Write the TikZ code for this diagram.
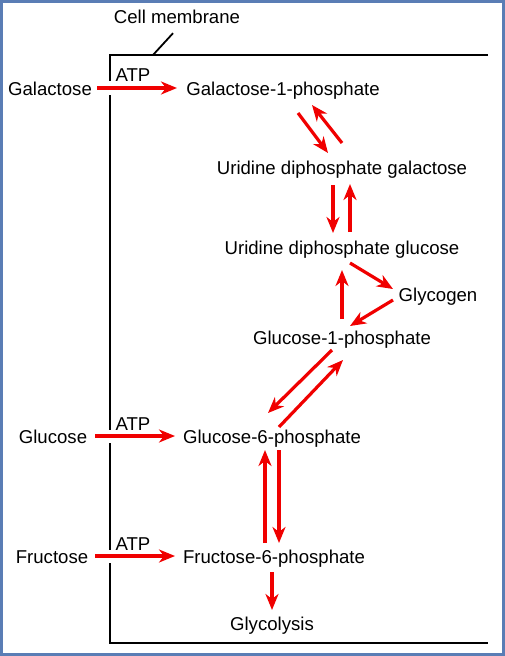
\documentclass[tikz,border=0pt]{standalone}
\usepackage{fontspec}
\setmainfont{Liberation Sans}
\usepackage{tikz}
\usetikzlibrary{arrows.meta, positioning, calc}
\definecolor{frameblue}{RGB}{90,125,181}
\definecolor{pathred}{RGB}{240,0,0}
\tikzstyle{label} = [inner sep=0pt, text height=13.5pt, text depth=3.5pt, font=\fontsize{18.6}{22}\selectfont]
\tikzstyle{arrow} = [draw=pathred, line width=3.2pt, -{Stealth[length=16pt, width=13pt, inset=5pt]}]
\tikzstyle{membrane} = [draw=black, line width=2.6pt]

\begin{document}
\begin{tikzpicture}[x=1pt, y=-1pt]
    \useasboundingbox (0,0) rectangle (505,656);
    \draw [frameblue, line width=3pt] (1.5,1.5) rectangle (503.5,654.5);

    % Nodes
    \node (cellmem) [label] at (177,18) {Cell membrane};
    \node (galactose) [label] at (50,90) {Galactose};
    \node (gal1p) [label] at (283,90) {Galactose-1-phosphate};
    \node (udpgal) [label] at (342,169) {Uridine diphosphate galactose};
    \node (udpglc) [label] at (342,249) {Uridine diphosphate glucose};
    \node (glycogen) [label] at (438,296) {Glycogen};
    \node (glc1p) [label] at (342,339) {Glucose-1-phosphate};
    \node (glucose) [label] at (53,438) {Glucose};
    \node (glc6p) [label] at (272,438) {Glucose-6-phosphate};
    \node (fructose) [label] at (52,558) {Fructose};
    \node (fru6p) [label] at (274,558) {Fructose-6-phosphate};
    \node (glycolysis) [label] at (272,625) {Glycolysis};
    \node (atpgal) [label] at (133,76) {ATP};
    \node (atpglc) [label] at (133,425) {ATP};
    \node (atpfru) [label] at (133,545) {ATP};

    % Membrane
    \coordinate (memtop) at (153,55);
    \draw [membrane] (488,55) -- (110,55) -- (110,81);
    \draw [membrane] (110,95) -- (110,430);
    \draw [membrane] (110,443) -- (110,550);
    \draw [membrane] (110,563) -- (110,643) -- (488,643);
    \draw [black, line width=1.8pt] (memtop) -- ([xshift=-4pt, yshift=-6.5pt]cellmem.south);

    % Arrows
    \draw [arrow] ($(galactose)+(47,-2)$) -- ($(gal1p)+(-106,-2)$);
    \draw [arrow] ($(gal1p)+(15,23)$) -- ($(udpgal)+(-14,-16)$);
    \draw [arrow] ($(udpgal)+(0,-26)$) -- ($(gal1p)+(29,15)$);
    \draw [arrow] ($(udpgal)+(-9,16)$) -- ($(udpglc)+(-9,-16)$);
    \draw [arrow] ($(udpglc)+(8,-17)$) -- ($(udpgal)+(8,15)$);
    \draw [arrow] ($(udpglc)+(8,14)$) -- ($(glycogen)+(-45,-7)$);
    \draw [arrow] ($(glycogen)+(-45,4)$) -- ($(glc1p)+(8,-13)$);
    \draw [arrow] ($(glc1p)+(0,-20)$) -- ($(udpglc)+(0,21)$);
    \draw [arrow] ($(glc1p)+(-10,11)$) -- ($(glc6p)+(-4,-25)$);
    \draw [arrow] ($(glc6p)+(7,-11)$) -- ($(glc1p)+(1,21)$);
    \draw [arrow] ($(glucose)+(42,-2)$) -- ($(glc6p)+(-97,-2)$);
    \draw [arrow] ($(glc6p)+(7,12)$) -- ($(fru6p)+(5,-15)$);
    \draw [arrow] ($(fru6p)+(-9,-15)$) -- ($(glc6p)+(-7,12)$);
    \draw [arrow] ($(fructose)+(43,-2)$) -- ($(fru6p)+(-99,-2)$);
    \draw [arrow] ($(fru6p)+(-2,14)$) -- ($(glycolysis)+(0,-15)$);
\end{tikzpicture}
\end{document}
